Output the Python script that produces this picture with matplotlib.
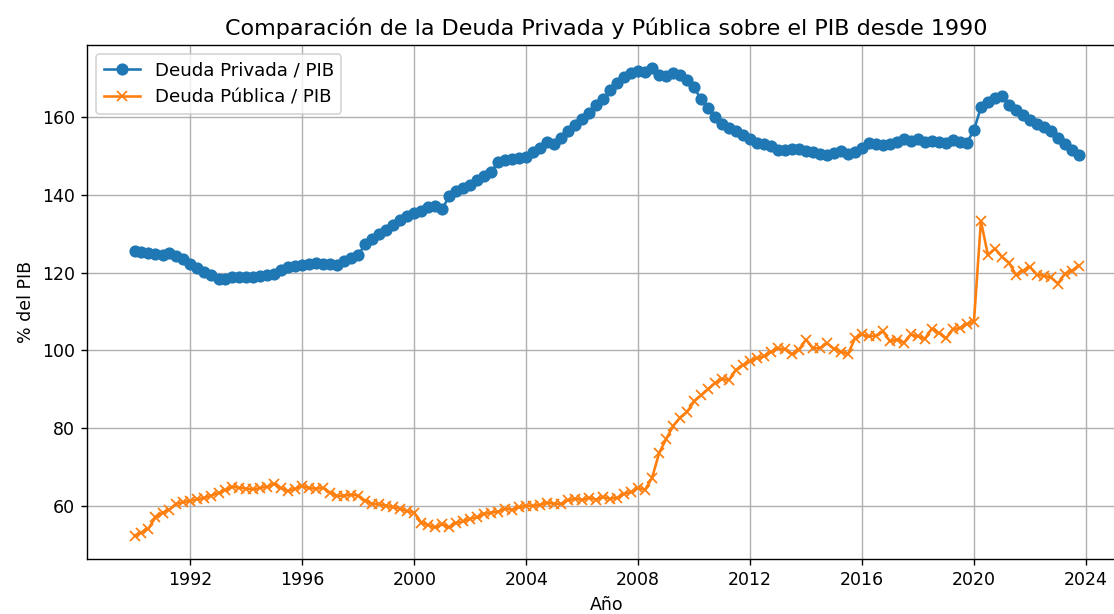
import numpy as np
import pandas as pd
import matplotlib
matplotlib.use("Agg")
import matplotlib.pyplot as plt
import matplotlib.dates as mdates

# Trimestres desde 1990T1 hasta 2023T4
fechas = pd.date_range("1990-01-01", periods=136, freq="QS")

# Deuda privada / PIB (%), 4 valores por año
deuda_privada = [
    125.6, 125.4, 125.1, 124.9,   # 1990
    124.6, 125.0, 124.3, 123.5,   # 1991
    122.3, 121.2, 120.3, 119.3,   # 1992
    118.4, 118.5, 118.8, 118.9,   # 1993
    119.0, 119.0, 119.2, 119.4,   # 1994
    119.6, 120.6, 121.4, 121.8,   # 1995
    122.0, 122.3, 122.4, 122.3,   # 1996
    122.3, 121.9, 123.0, 123.8,   # 1997
    124.6, 127.4, 128.6, 130.0,   # 1998
    131.0, 132.2, 133.6, 134.6,   # 1999
    135.4, 136.0, 137.0, 137.2,   # 2000
    136.4, 139.8, 141.0, 141.8,   # 2001
    142.6, 143.8, 145.0, 146.0,   # 2002
    148.5, 149.0, 149.4, 149.6,   # 2003
    149.9, 151.0, 152.0, 153.6,   # 2004
    153.2, 154.8, 156.5, 158.0,   # 2005
    159.5, 161.2, 163.2, 164.6,   # 2006
    167.0, 168.8, 170.4, 171.5,   # 2007
    172.0, 171.8, 172.6, 170.8,   # 2008
    170.6, 171.3, 171.0, 169.5,   # 2009
    167.7, 164.6, 162.3, 160.2,   # 2010
    158.3, 157.2, 156.4, 155.4,   # 2011
    154.3, 153.5, 153.1, 152.6,   # 2012
    151.6, 151.5, 151.8, 151.8,   # 2013
    151.3, 151.0, 150.6, 150.4,   # 2014
    150.9, 151.3, 150.6, 151.1,   # 2015
    152.0, 153.4, 153.1, 152.8,   # 2016
    153.2, 153.7, 154.4, 153.8,   # 2017
    154.4, 153.6, 153.8, 153.6,   # 2018
    153.5, 154.1, 153.7, 153.5,   # 2019
    156.7, 162.6, 164.0, 165.1,   # 2020
    165.6, 163.3, 162.0, 160.5,   # 2021
    159.4, 158.4, 157.6, 156.5,   # 2022
    154.8, 153.1, 151.7, 150.3,   # 2023
]

# Deuda pública / PIB (%)
deuda_publica = [
    52.3, 53.1, 54.1, 57.0,       # 1990
    58.2, 59.0, 60.5, 60.9,       # 1991
    61.3, 61.7, 62.0, 62.6,       # 1992
    63.3, 64.0, 64.9, 64.6,       # 1993
    64.4, 64.2, 64.6, 64.9,       # 1994
    65.6, 64.5, 63.8, 64.4,       # 1995
    65.1, 64.5, 64.4, 64.6,       # 1996
    63.3, 62.5, 62.6, 62.8,       # 1997
    62.6, 61.3, 60.5, 60.4,       # 1998
    60.0, 59.6, 59.2, 58.6,       # 1999
    58.2, 55.6, 55.0, 54.4,       # 2000
    55.2, 54.4, 55.6, 56.0,       # 2001
    56.7, 57.0, 57.9, 58.2,       # 2002
    58.5, 59.2, 59.0, 59.6,       # 2003
    60.0, 60.0, 60.2, 60.8,       # 2004
    60.5, 60.5, 61.4, 61.8,       # 2005
    61.5, 62.0, 61.6, 62.2,       # 2006
    61.8, 62.0, 63.1, 63.5,       # 2007
    64.6, 64.1, 67.2, 73.6,       # 2008
    77.2, 80.5, 82.7, 84.2,       # 2009
    86.9, 88.4, 90.0, 91.6,       # 2010
    92.6, 92.4, 95.0, 96.2,       # 2011
    97.2, 98.0, 98.5, 99.6,       # 2012
    100.5, 100.3, 99.0, 100.2,    # 2013
    102.8, 100.5, 100.6, 101.8,   # 2014
    100.4, 99.7, 99.0, 103.1,     # 2015
    104.1, 103.6, 103.8, 104.9,   # 2016
    102.3, 102.8, 102.0, 104.1,   # 2017
    103.6, 103.0, 105.6, 104.5,   # 2018
    103.1, 105.4, 105.8, 106.7,   # 2019
    107.4, 133.3, 124.6, 126.2,   # 2020
    124.1, 122.6, 119.5, 120.5,   # 2021
    121.5, 119.5, 119.2, 118.8,   # 2022
    117.2, 119.7, 120.5, 121.8,   # 2023
]

fig = plt.figure(figsize=(1114 / 125, 614 / 125), dpi=125)
# el eje se sale un poco por la derecha, como en la captura original
ax = fig.add_axes([0.0784, 0.0896, 0.9324, 0.837])

ax.plot(fechas, deuda_privada, marker="o", label="Deuda Privada / PIB")
ax.plot(fechas, deuda_publica, marker="x", label="Deuda Pública / PIB")

ax.xaxis.set_major_locator(mdates.YearLocator(4))
ax.xaxis.set_major_formatter(mdates.DateFormatter("%Y"))

ax.set_title("Comparación de la Deuda Privada y Pública sobre el PIB desde 1990", fontsize=12.8)
ax.set_xlabel("Año")
ax.set_ylabel("% del PIB")
ax.legend(loc="upper left", fontsize=10.5)
ax.grid(True)

fig.savefig("out.png", dpi=125)
